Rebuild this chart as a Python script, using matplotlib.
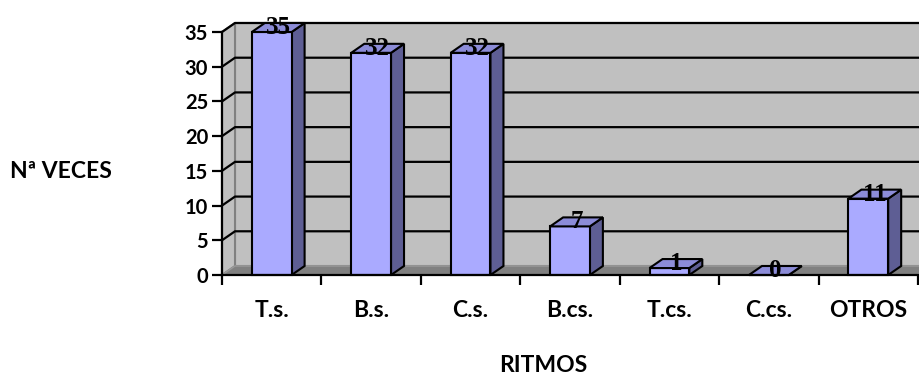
import matplotlib
matplotlib.use('Agg')
import matplotlib.pyplot as plt
from matplotlib.patches import Polygon

# Data
ritmos = ['T.s.', 'B.s.', 'C.s.', 'B.cs.', 'T.cs.', 'C.cs.', 'OTROS']
veces = [35, 32, 32, 7, 1, 0, 11]
yticks = [0, 5, 10, 15, 20, 25, 30, 35]

plt.rcParams['font.family'] = ['Lato', 'DejaVu Sans']

fig = plt.figure(figsize=(9.2, 3.76), dpi=100)
ax = fig.add_axes([222 / 920, 101 / 376, 696 / 920, 243 / 376])
ax.set_xlim(0, len(ritmos))
ax.set_ylim(0, 35)
ax.set_facecolor('none')

# 3D depth offset (pixels -> data units)
px_x = len(ritmos) / 696
px_y = 35 / 243
dx = 13 * px_x
dy = 9 * px_y
ymax = 35
n = len(ritmos)

# back wall, side wall, floor
wall = Polygon([(dx, dy), (n + dx, dy), (n + dx, ymax + dy), (dx, ymax + dy)],
               closed=True, facecolor='#c0c0c0', edgecolor='#808080', lw=1.5,
               clip_on=False, zorder=0)
side = Polygon([(0, 0), (dx, dy), (dx, ymax + dy), (0, ymax)],
               closed=True, facecolor='#c0c0c0', edgecolor='#808080', lw=1.5,
               clip_on=False, zorder=0)
floor = Polygon([(0, 0), (n, 0), (n + dx, dy), (dx, dy)],
                closed=True, facecolor='#808080', edgecolor='#9a9a9a', lw=1,
                clip_on=False, zorder=0.5)
for p in (wall, side, floor):
    ax.add_patch(p)

# gridlines across side and back wall
for v in yticks[1:]:
    ax.plot([0, dx, n + dx], [v, v + dy, v + dy], color='black', lw=1.6,
            clip_on=False, zorder=1, solid_capstyle='butt')

# bars
hw = 0.2
for i, v in enumerate(veces):
    c = i + 0.5
    front = Polygon([(c - hw, 0), (c + hw, 0), (c + hw, v), (c - hw, v)],
                    closed=True, facecolor='#aaaaff', edgecolor='black', lw=1.5,
                    clip_on=False, zorder=3)
    sidef = Polygon([(c + hw, 0), (c + hw + dx, dy), (c + hw + dx, v + dy), (c + hw, v)],
                    closed=True, facecolor='#5e5e94', edgecolor='black', lw=1.5,
                    clip_on=False, zorder=3)
    top = Polygon([(c - hw, v), (c + hw, v), (c + hw + dx, v + dy), (c - hw + dx, v + dy)],
                  closed=True, facecolor='#8c8cd8', edgecolor='black', lw=1.5,
                  clip_on=False, zorder=3)
    for p in (sidef, front, top):
        ax.add_patch(p)
    ax.text(c + dx / 2, v - 0.3, str(v), ha='center', va='baseline',
            fontsize=18, family='Liberation Serif', fontweight='bold',
            color='black', zorder=5, clip_on=False)

# axes styling
for s in ('top', 'right'):
    ax.spines[s].set_visible(False)
for s in ('left', 'bottom'):
    ax.spines[s].set_linewidth(1.6)
    ax.spines[s].set_zorder(4)

ax.set_yticks(yticks)
ax.set_yticklabels([str(t) for t in yticks], fontsize=14.5, fontweight='bold')
ax.tick_params(axis='y', length=7, width=1.6, pad=3)

ax.set_xticks(range(n + 1))
ax.set_xticklabels([])
ax.tick_params(axis='x', which='major', length=7, width=1.6)
ax.set_xticks([i + 0.5 for i in range(n)], minor=True)
ax.set_xticklabels(ritmos, minor=True, fontsize=16.5, fontweight='bold')
ax.tick_params(axis='x', which='minor', length=0, pad=18)

fig.text(61 / 920, 1 - 172 / 376, 'Nª VECES', ha='center', va='center',
         fontsize=16.5, fontweight='bold')
fig.text(543 / 920, 1 - 366 / 376, 'RITMOS', ha='center', va='center',
         fontsize=16.5, fontweight='bold')

fig.savefig('out.png', dpi=100)
